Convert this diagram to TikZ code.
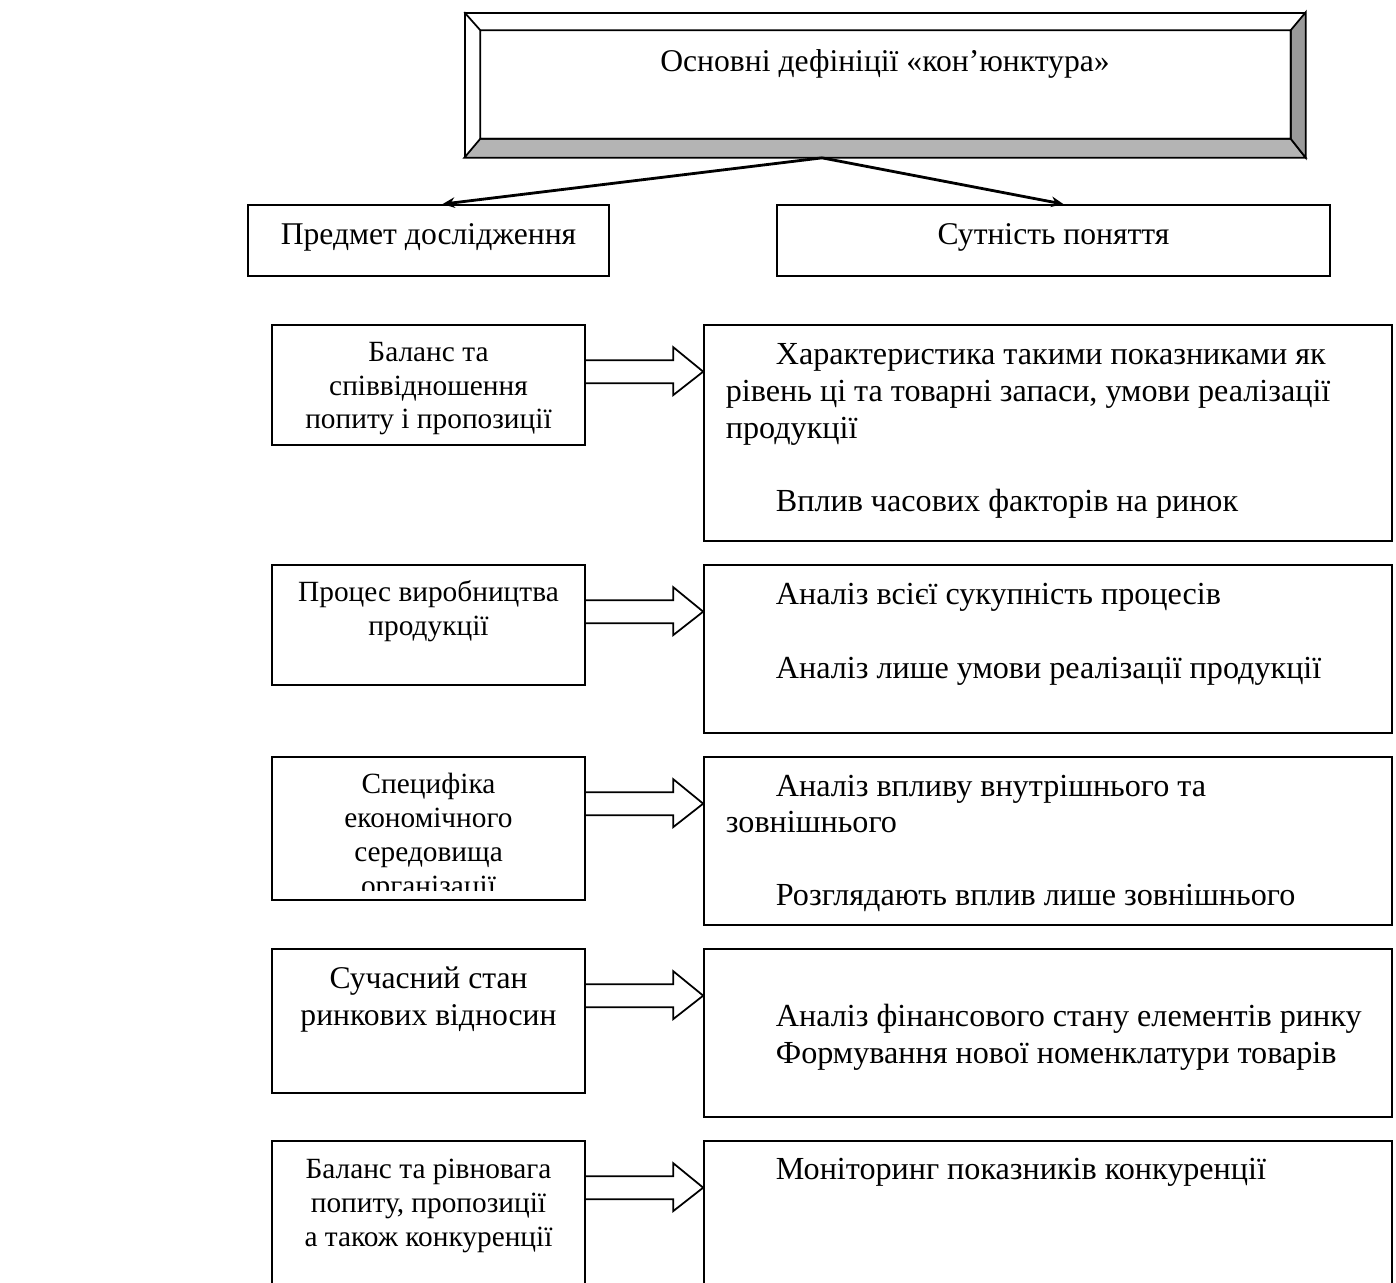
\documentclass[tikz,border=0pt]{standalone}
\usepackage{fontspec}
\setmainfont{Liberation Serif}
\usetikzlibrary{calc,arrows.meta}
\definecolor{bevelbot}{HTML}{B4B4B4}
\definecolor{bevelside}{HTML}{9A9A9A}

\begin{document}
\begin{tikzpicture}[x=0.02cm,y=-0.02cm,line width=1pt]

      \clip (0,0) rectangle (1396,1283);
      \fill[white] (0,0) rectangle (1396,1283);

      \begin{scope}[every node/.style={draw,rectangle,inner sep=0pt,fill=white}]
        \node[minimum width=16.8cm,minimum height=2.88cm] (osn) at (885,85) {};
        \node[minimum width=7.22cm,minimum height=1.42cm] (pred) at (428.5,240.5) {};
        \node[minimum width=11.06cm,minimum height=1.42cm] (sut) at (1053.5,240.5) {};

        \node[minimum width=6.26cm,minimum height=2.4cm] (bal) at (428.5,385) {};
        \node[minimum width=6.26cm,minimum height=2.4cm] (pro) at (428.5,625) {};
        \node[minimum width=6.26cm,minimum height=2.86cm] (spe) at (428.5,828.5) {};
        \node[minimum width=6.26cm,minimum height=2.88cm] (suc) at (428.5,1021) {};
        \node[minimum width=6.26cm,minimum height=3.18cm] (rivn) at (428.5,1220.5) {};

        \node[minimum width=13.76cm,minimum height=4.32cm] (har) at (1048,433) {};
        \node[minimum width=13.76cm,minimum height=3.36cm] (vsi) at (1048,649) {};
        \node[minimum width=13.76cm,minimum height=3.36cm] (vnu) at (1048,841) {};
        \node[minimum width=13.76cm,minimum height=3.36cm] (fin) at (1048,1033) {};
        \node[minimum width=13.76cm,minimum height=3.18cm] (mon) at (1048,1220.5) {};
      \end{scope}

      \coordinate (inw) at ($(osn.north west)+(16,18)$);
      \coordinate (ine) at ($(osn.north east)+(-15,18)$);
      \coordinate (ise) at ($(osn.south east)+(-15,-19)$);
      \coordinate (isw) at ($(osn.south west)+(16,-19)$);
      \filldraw[fill=bevelbot] (osn.south west) -- (isw) -- (ise) -- (osn.south east) -- cycle;
      \filldraw[fill=bevelside] (osn.north east) -- (ine) -- (ise) -- (osn.south east) -- cycle;
      \draw (osn.north west) -- (inw) (inw) rectangle (ise);

      \coordinate (split) at ($(osn.south)+(-63,0)$);
      \begin{scope}[line width=1.6pt,-{Stealth[length=7pt,width=6pt]}]
        \draw (split) -- ($(pred.north)+(14,0)$);
        \draw (split) -- ($(sut.north)+(10,0)$);
      \end{scope}

      \foreach \l/\r in {bal/har,pro/vsi,spe/vnu,suc/fin,rivn/mon}
        \draw ($(\l.north east)+(0,36)$) -- ($(\r.north west)+(-30,36)$)
          -- ($(\r.north west)+(-30,23)$) -- ($(\r.north west)+(0,47.5)$)
          -- ($(\r.north west)+(-30,71)$) -- ($(\r.north west)+(-30,59)$)
          -- ($(\l.north east)+(0,59)$);

      \begin{scope}[every node/.style={inner sep=0pt},
          ltext/.style={anchor=base,align=center,font=\fontsize{16.7}{19.3}\selectfont},
          rtext/.style={anchor=base west,align=left,font=\fontsize{18.3}{21}\selectfont}]
        \node[anchor=base,font=\fontsize{18}{21}\selectfont] (osnt) at (885,72) {Основні дефініції «кон’юнктура»};
        \node[anchor=base,font=\fontsize{18}{21}\selectfont] (predt) at (428.5,245) {Предмет дослідження};
        \node[anchor=base,font=\fontsize{18}{21}\selectfont] (sutt) at (1053.5,245) {Сутність поняття};

        \node[ltext] (balt) at (428.5,429) {Баланс та\\співвідношення\\попиту і пропозиції};
        \node[ltext] (prot) at (428.5,635) {Процес виробництва\\продукції};
        \begin{scope}
          \clip ($(spe.south west)+(0,-10)$) rectangle (spe.north east);
          \node[ltext] (spet) at (428.5,895) {Специфіка\\економічного\\середовища\\організації};
        \end{scope}
        \node[ltext,font=\fontsize{18}{21}\selectfont] (suct) at (428.5,1025) {Сучасний стан\\ринкових відносин};
        \node[ltext] (rivnt) at (428.5,1246) {Баланс та рівновага\\попиту, пропозиції\\а також конкуренції};

        \node[rtext] (hart) at (725,512) {\hspace*{1cm}Характеристика такими показниками як\\рівень ці та товарні запаси, умови реалізації\\продукції\\[21pt]\hspace*{1cm}Вплив часових факторів на ринок};
        \node[rtext] (vsit) at (725,678) {\hspace*{1cm}Аналіз всієї сукупність процесів\\[21pt]\hspace*{1cm}Аналіз лише умови реалізації продукції};
        \node[rtext] (vnut) at (725,905) {\hspace*{1cm}Аналіз впливу внутрішнього та\\зовнішнього\\[20pt]\hspace*{1cm}Розглядають вплив лише зовнішнього};
        \node[rtext] (fint) at (725,1063) {\hspace*{1cm}Аналіз фінансового стану елементів ринку\\\hspace*{1cm}Формування нової номенклатури товарів};
        \node[rtext] (mont) at (725,1179) {\hspace*{1cm}Моніторинг показників конкуренції};
      \end{scope}

    \end{tikzpicture}
\end{document}
